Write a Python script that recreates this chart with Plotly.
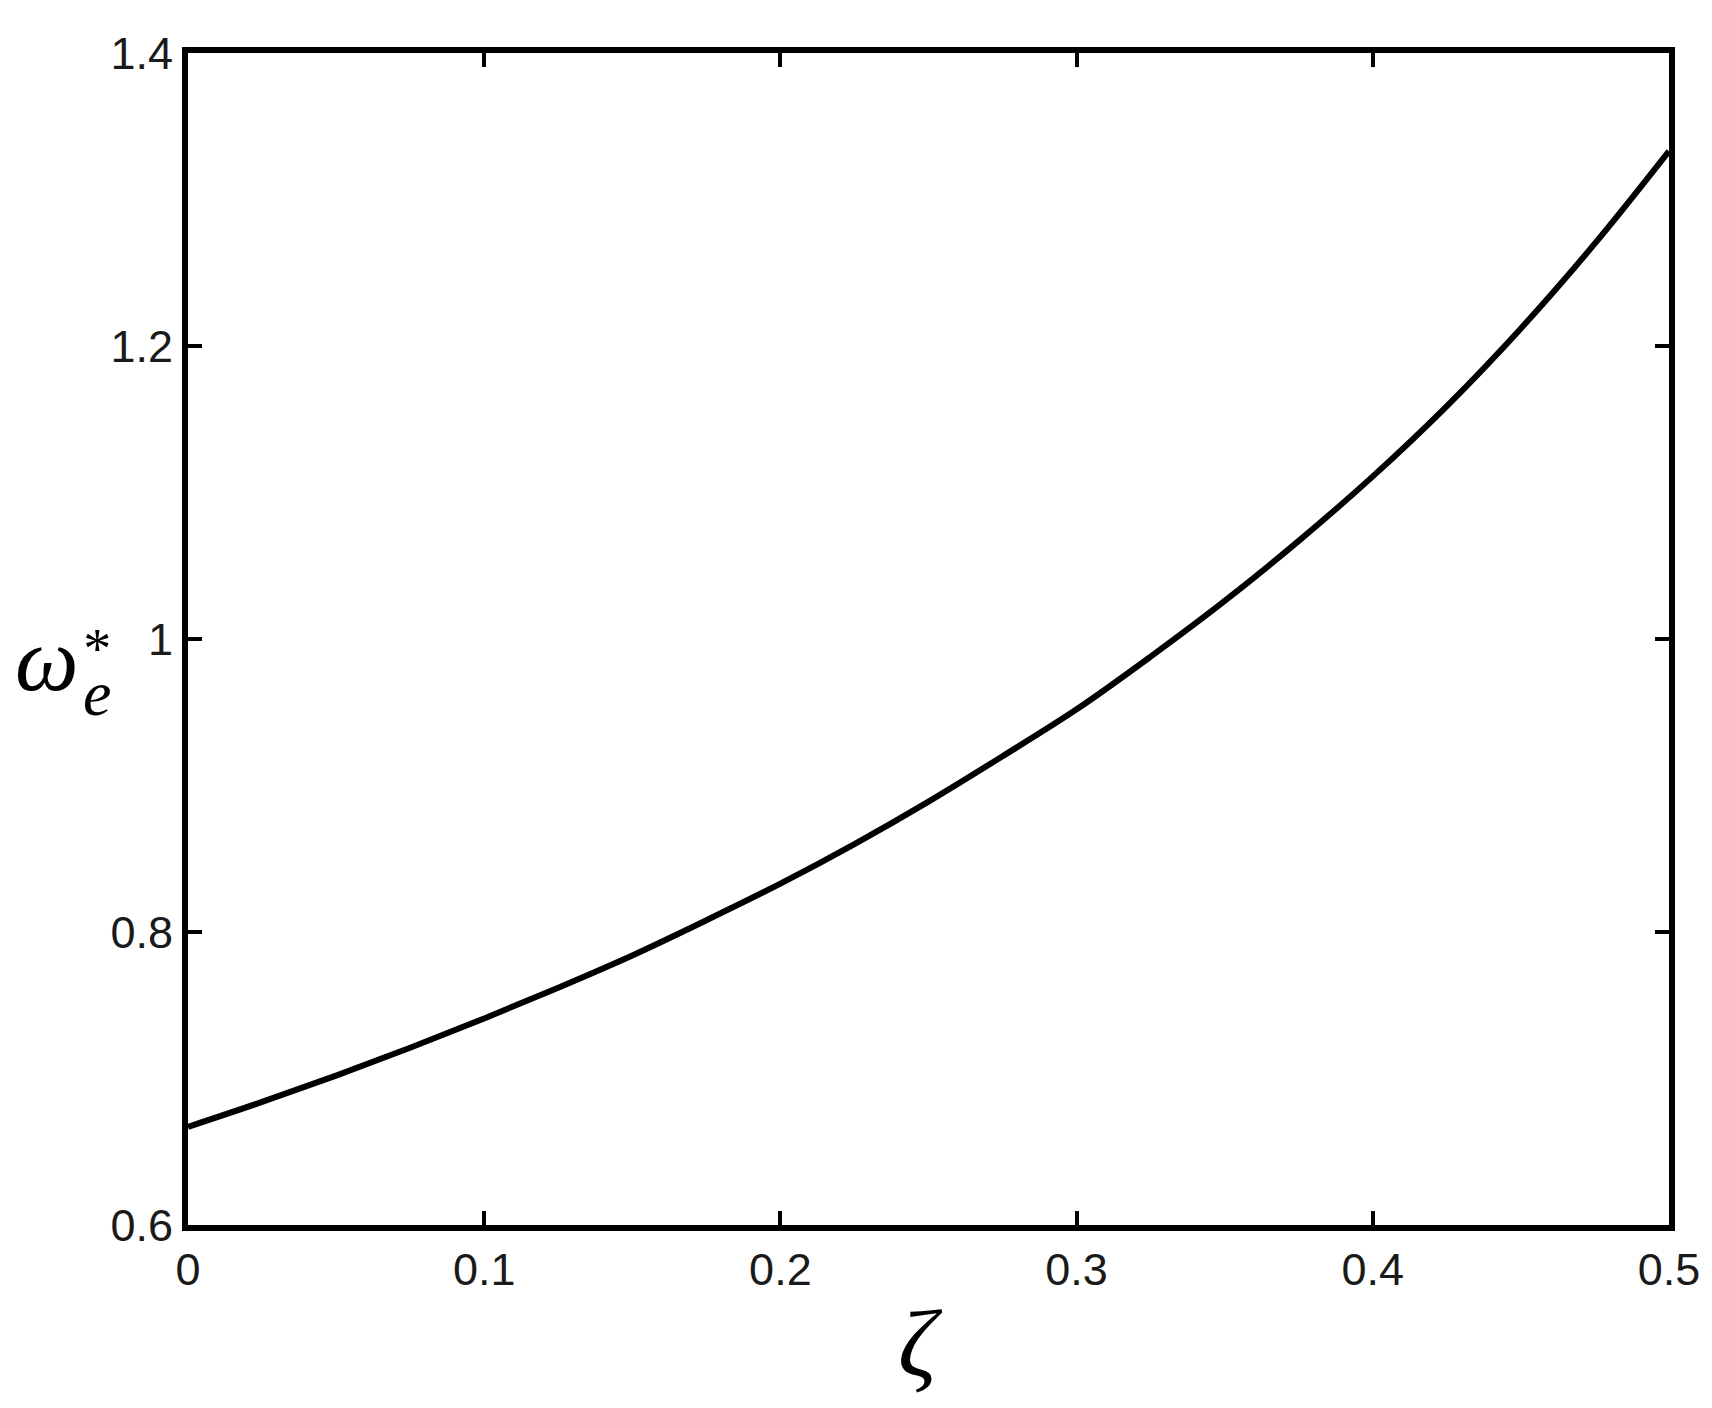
import plotly.graph_objects as go

# Data
zeta = [0.0, 0.025, 0.05, 0.075, 0.1, 0.125, 0.15, 0.175, 0.2, 0.225, 0.25,
        0.275, 0.3, 0.325, 0.35, 0.375, 0.4, 0.425, 0.45, 0.475, 0.5]
omega_e = [0.667, 0.684, 0.702, 0.721, 0.741, 0.762, 0.784, 0.808, 0.833, 0.860, 0.889,
           0.920, 0.952, 0.988, 1.026, 1.067, 1.111, 1.159, 1.212, 1.270, 1.333]

x_ticks = [0, 0.1, 0.2, 0.3, 0.4, 0.5]
y_ticks = [0.6, 0.8, 1.0, 1.2, 1.4]
x_ticklabels = ["0", "0.1", "0.2", "0.3", "0.4", "0.5"]
y_ticklabels = ["0.6", "0.8", "1", "1.2", "1.4"]

OFF = 8  # default page body margin
W, H = 1712 - OFF, 1408 - OFF
L, R, T, B = 188 - OFF, 40, 53 - OFF, 183
pw, ph = W - L - R, H - T - B

def px(xp):  # page x pixel -> paper
    return (xp - OFF - L) / pw

def py(yp):  # page y pixel -> paper
    return (H - B - (yp - OFF)) / ph

fig = go.Figure()
fig.add_trace(go.Scatter(x=zeta, y=omega_e, mode="lines",
                         line=dict(color="black", width=6, shape="spline"),
                         showlegend=False))

tickfont = dict(family="Liberation Sans, Arial, sans-serif", size=45, color="#1a1a1a")
axis_common = dict(showline=True, linecolor="black", linewidth=6, mirror="ticks",
                   ticks="inside", ticklen=14, tickwidth=4, tickcolor="black",
                   showgrid=False, zeroline=False, tickfont=tickfont)

fig.update_xaxes(range=[0, 0.5], tickvals=x_ticks, ticktext=x_ticklabels, **axis_common)
fig.update_yaxes(range=[0.6, 1.4], tickvals=y_ticks, ticktext=y_ticklabels, **axis_common)

serif = "Liberation Serif, Times New Roman, serif"
annotations = [
    dict(text="<i>ζ</i>", x=px(922), y=py(1344), xref="paper", yref="paper",
         showarrow=False, font=dict(family=serif, size=96, color="black"),
         xanchor="center", yanchor="middle"),
    dict(text="<i>ω</i>", x=px(81), y=py(659), xref="paper", yref="paper",
         showarrow=False, font=dict(family=serif, size=90, color="black"),
         xanchor="right", yanchor="middle"),
    dict(text='<span style="font-size:56px">*</span><br>'
              '<span style="font-size:64px"><i>e</i></span>',
         x=px(81), y=py(673), xref="paper", yref="paper",
         showarrow=False, font=dict(family=serif, size=36, color="black"),
         xanchor="left", yanchor="middle", align="center"),
]

fig.update_layout(width=W, height=H, margin=dict(l=L, r=R, t=T, b=B),
                  plot_bgcolor="white", paper_bgcolor="white",
                  annotations=annotations)

fig.write_html("out.html")
